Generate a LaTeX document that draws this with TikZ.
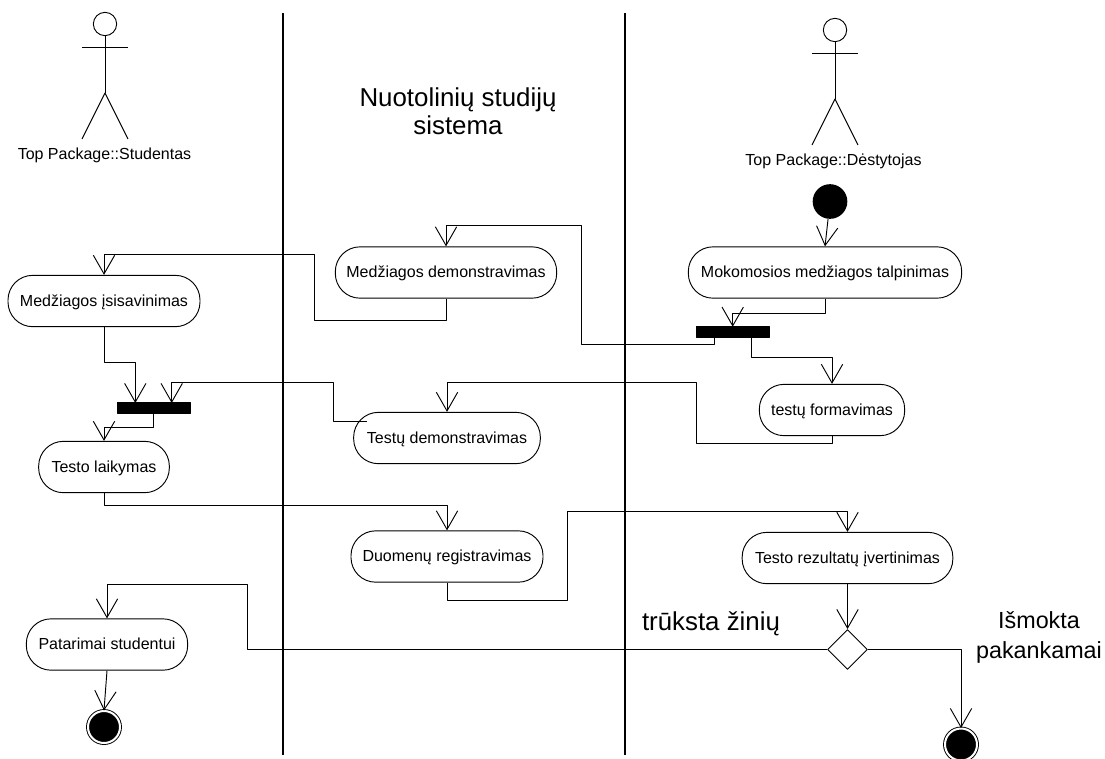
\documentclass[tikz,border=0pt]{standalone}
\usepackage{fontspec}
\setmainfont{Liberation Sans}
\usetikzlibrary{arrows.meta,shapes.geometric}
\tikzset{
	activity/.style={draw,rectangle,rounded corners=18.5pt,minimum height=38.5pt,inner sep=0pt,text height=9pt,text depth=1.5pt,font=\fontsize{12}{14}\selectfont},
	actorlabel/.style={inner sep=0pt,font=\fontsize{12}{14}\selectfont},
	bigtext/.style={inner sep=0pt,align=center,font=\fontsize{19.4}{21}\selectfont},
	sidetext/.style={inner sep=0pt,align=center,font=\fontsize{17.5}{22.5}\selectfont},
	forkbar/.style={draw,fill=black,minimum width=55pt,minimum height=8pt,inner sep=0pt},
	startdot/.style={circle,fill=black,minimum size=26pt,inner sep=0pt},
	enddot/.style={circle,draw,fill=black,double=white,double distance=1.5pt,minimum size=24pt,inner sep=0pt},
	decision/.style={draw,fill=white,diamond,aspect=1,minimum size=30pt,inner sep=0pt},
	lane/.style={line width=1.1pt},
	flow/.style={->},
}
\begin{document}
\begin{tikzpicture}[>={Straight Barb[length=14pt,width=16pt]},line join=round,line width=0.7pt,x=0.75pt,y=-0.75pt]
	\useasboundingbox (0,0) rectangle (1105,758);
	% lanes
	\coordinate (L1a) at (283,13);
	\coordinate (L1b) at (283,755);
	\coordinate (L2a) at (625,13);
	\coordinate (L2b) at (625,755);
	\draw[lane] (L1a)--(L1b);
	\draw[lane] (L2a)--(L2b);
	% actors
	\node[circle,draw,minimum size=17.5pt,inner sep=0pt] (headS) at (105,24) {};
	\coordinate (armSa) at (82,47);
	\coordinate (armSb) at (128,47);
	\coordinate (hipS) at (105,93);
	\coordinate (legSa) at (82,139);
	\coordinate (legSb) at (128,139);
	\draw (headS.south)--(hipS);
	\draw (armSa)--(armSb);
	\draw (legSa)--(hipS)--(legSb);
	\node[actorlabel] (nameS) at (104.5,155) {Top Package::Studentas};
	\node[circle,draw,minimum size=17.5pt,inner sep=0pt] (headD) at (835,30) {};
	\coordinate (armDa) at (812,53);
	\coordinate (armDb) at (858,53);
	\coordinate (hipD) at (835,99);
	\coordinate (legDa) at (812,145);
	\coordinate (legDb) at (858,145);
	\draw (headD.south)--(hipD);
	\draw (armDa)--(armDb);
	\draw (legDa)--(hipD)--(legDb);
	\node[actorlabel] (nameD) at (833.5,161) {Top Package::Dėstytojas};
	% texts
	\node[bigtext] (title) at (458,111) {Nuotolinių studijų\\sistema};
	\node[bigtext] (lack) at (711,623.5) {trūksta žinių};
	\node[sidetext] (enough) at (1039,637) {Išmokta\\pakankamai};
	% activities
	\node[activity,minimum width=144pt] (learn) at (104,301) {Medžiagos įsisavinimas};
	\node[activity,minimum width=166pt] (show) at (446,272.5) {Medžiagos demonstravimas};
	\node[activity,minimum width=205pt] (upload) at (825,272.5) {Mokomosios medžiagos talpinimas};
	\node[activity,minimum width=109pt] (form) at (832,410) {testų formavimas};
	\node[activity,minimum width=140pt] (showtest) at (447,438) {Testų demonstravimas};
	\node[activity,minimum width=98pt] (exam) at (104,467) {Testo laikymas};
	\node[activity,minimum width=144pt] (reg) at (447,556.5) {Duomenų registravimas};
	\node[activity,minimum width=158pt] (grade) at (847.5,558) {Testo rezultatų įvertinimas};
	\node[activity,minimum width=121pt] (advice) at (107,644.5) {Patarimai studentui};
	% bars and dots
	\node[forkbar] (barL) at (153.7,408) {};
	\node[forkbar] (barR) at (732.7,331.7) {};
	\node[startdot] (start) at (830,201.5) {};
	\node[enddot] (endL) at (104,727) {};
	\node[enddot] (endR) at (961,744.5) {};
	\node[decision] (test) at (847.5,649.5) {};
	% bends
	\coordinate (a1) at (825,313.3);
	\coordinate (a2) at (732.7,313.3);
	\coordinate (a3) at (732.7,326.7);
	\coordinate (b0) at (714.5,337);
	\coordinate (b1) at (714.5,344.3);
	\coordinate (b2) at (581,344.3);
	\coordinate (b3) at (581,225);
	\coordinate (b4) at (446,225);
	\coordinate (c0) at (751,337);
	\coordinate (c1) at (751,357.3);
	\coordinate (c2) at (832,357.3);
	\coordinate (d1) at (832,443.3);
	\coordinate (d2) at (696.7,443.3);
	\coordinate (d3) at (696.7,382.7);
	\coordinate (d4) at (447,382.7);
	\coordinate (e1) at (446,320);
	\coordinate (e2) at (314,320);
	\coordinate (e3) at (314,254);
	\coordinate (e4) at (104,254);
	\coordinate (f1) at (104,362);
	\coordinate (f2) at (135.3,362);
	\coordinate (f3) at (135.3,403);
	\coordinate (g0) at (366.7,421.3);
	\coordinate (g1) at (333,421.3);
	\coordinate (g2) at (333,382.3);
	\coordinate (g3) at (171.7,382.3);
	\coordinate (g4) at (171.7,403);
	\coordinate (h1) at (153.7,427);
	\coordinate (h2) at (104,427);
	\coordinate (i1) at (104,505.7);
	\coordinate (i2) at (447,505.7);
	\coordinate (j1) at (447,600);
	\coordinate (j2) at (567,600);
	\coordinate (j3) at (567,511);
	\coordinate (j4) at (847.5,511);
	\coordinate (k1) at (247,649.5);
	\coordinate (k2) at (247,584);
	\coordinate (k3) at (107,584);
	\coordinate (m1) at (961,649.5);
	% flows
	\draw[flow] (start)--(upload.north);
	\draw[flow] (upload.south)--(a1)--(a2)--(a3);
	\draw[flow] (b0)--(b1)--(b2)--(b3)--(b4)--(show.north);
	\draw[flow] (c0)--(c1)--(c2)--(form.north);
	\draw[flow] (form.south)--(d1)--(d2)--(d3)--(d4)--(showtest.north);
	\draw[flow] (show.south)--(e1)--(e2)--(e3)--(e4)--(learn.north);
	\draw[flow] (learn.south)--(f1)--(f2)--(f3);
	\draw[flow] (g0)--(g1)--(g2)--(g3)--(g4);
	\draw[flow] (barL.south)--(h1)--(h2)--(exam.north);
	\draw[flow] (exam.south)--(i1)--(i2)--(reg.north);
	\draw[flow] (reg.south)--(j1)--(j2)--(j3)--(j4)--(grade.north);
	\draw[flow] (grade.south)--(test.north);
	\draw[flow] (test.west)--(k1)--(k2)--(k3)--(advice.north);
	\draw[flow] (test.east)--(m1)--(endR.north);
	\draw[flow] (advice.south)--(endL.north);
\end{tikzpicture}
\end{document}
